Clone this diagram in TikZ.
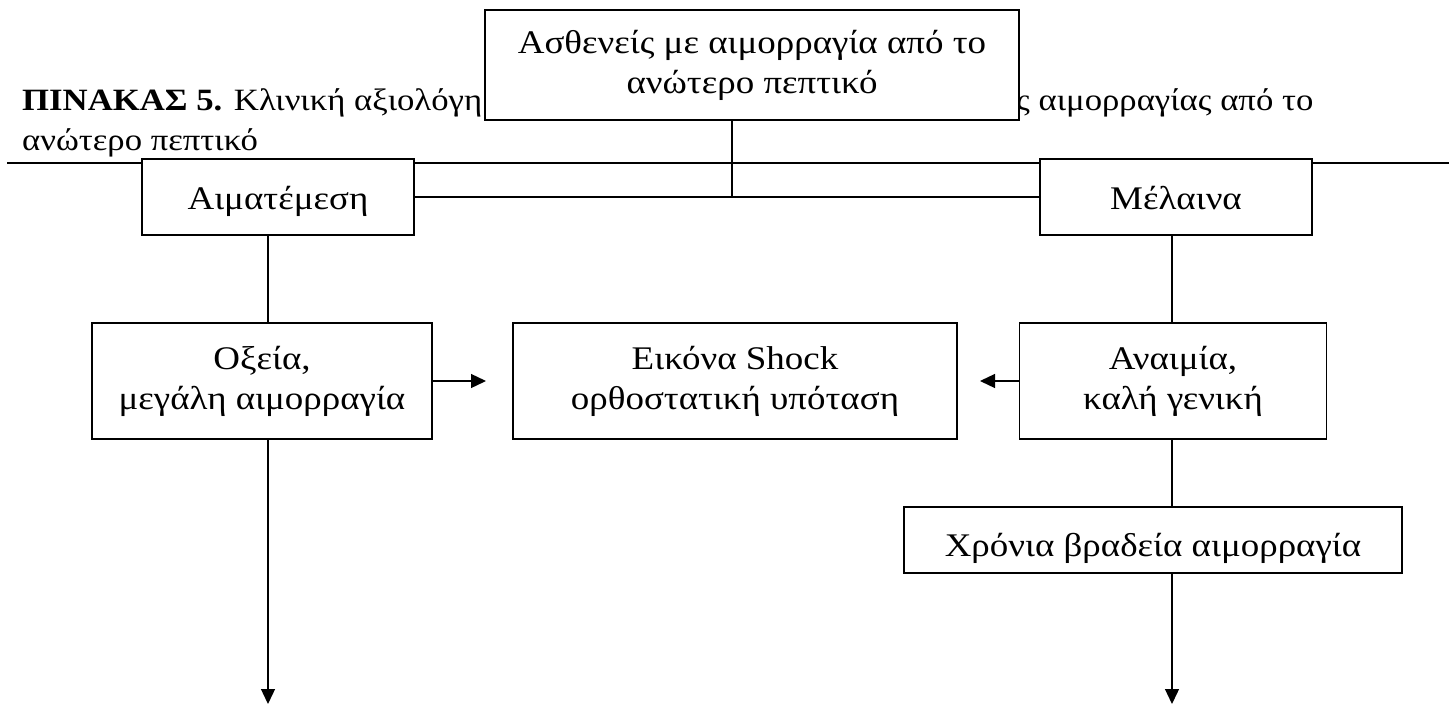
\documentclass[tikz,border=0pt]{standalone}
\usepackage{fontspec}
\setmainfont{Liberation Serif}[FakeStretch=1.12]
\usetikzlibrary{arrows.meta}

\begin{document}
\begin{tikzpicture}[x=1pt,y=-1pt,
  box/.style={draw,line width=1.4pt,fill=white,inner sep=0pt,align=center,
    font=\fontsize{33}{40}\selectfont},
  onebox/.style={box,text height=30pt,text depth=6pt},
  capt/.style={anchor=base west,inner sep=0pt,font=\fontsize{31}{40}\selectfont},
  link/.style={line width=1.3pt},
  arr/.style={link,-{Triangle[length=15pt,width=14pt]}}]
  \useasboundingbox (0,0) rectangle (1449,707);
  % caption and rule behind the boxes
  \node[capt] (cap1) at (22,110) {\textbf{ΠΙΝΑΚΑΣ 5.} Κλινική αξιολόγη};
  \node[capt] (cap1b) at (1016,110) {ς αιμορραγίας από το};
  \node[capt] (cap2) at (22,150) {ανώτερο πεπτικό};
  \coordinate (ruleL) at (7,163);
  \coordinate (ruleR) at (1449,163);
  \draw[line width=2.2pt] (ruleL) -- (ruleR);
  % boxes
  \node[box,minimum width=534,minimum height=110] (top) at (752,65)
    {Ασθενείς με αιμορραγία από το\\ανώτερο πεπτικό};
  \node[onebox,minimum width=272,minimum height=76] (haem) at (278,197) {Αιματέμεση};
  \node[onebox,minimum width=272,minimum height=76] (mel) at (1176,197) {Μέλαινα};
  \node[box,minimum width=340,minimum height=116] (acute) at (262,381)
    {Οξεία,\\μεγάλη αιμορραγία};
  \node[box,minimum width=444,minimum height=116] (shock) at (735,381)
    {Εικόνα Shock\\ορθοστατική υπόταση};
  \node[box,minimum width=307,minimum height=116] (anaem) at (1173,381)
    {Αναιμία,\\καλή γενική};
  \node[onebox,text height=34pt,text depth=2pt,minimum width=498,minimum height=66]
    (chron) at (1153,540) {Χρόνια βραδεία αιμορραγία};
  % connectors
  \coordinate (join) at (732,197);
  \coordinate (colL) at (268,0);
  \coordinate (colR) at (1172,0);
  \coordinate (tipA) at (486,381);
  \coordinate (tipB) at (980,381);
  \coordinate (tipL) at (268,704);
  \coordinate (tipR) at (1172,704);
  \draw[link] (haem.east) -- (mel.west);
  \draw[link] (top.south -| join) -- (join);
  \draw[link] (haem.south -| colL) -- (acute.north -| colL);
  \draw[link] (mel.south -| colR) -- (anaem.north -| colR);
  \draw[link] (anaem.south -| colR) -- (chron.north -| colR);
  \draw[arr] (acute.east) -- (tipA);
  \draw[arr] (anaem.west) -- (tipB);
  \draw[arr] (acute.south -| tipL) -- (tipL);
  \draw[arr] (chron.south -| tipR) -- (tipR);
\end{tikzpicture}
\end{document}
